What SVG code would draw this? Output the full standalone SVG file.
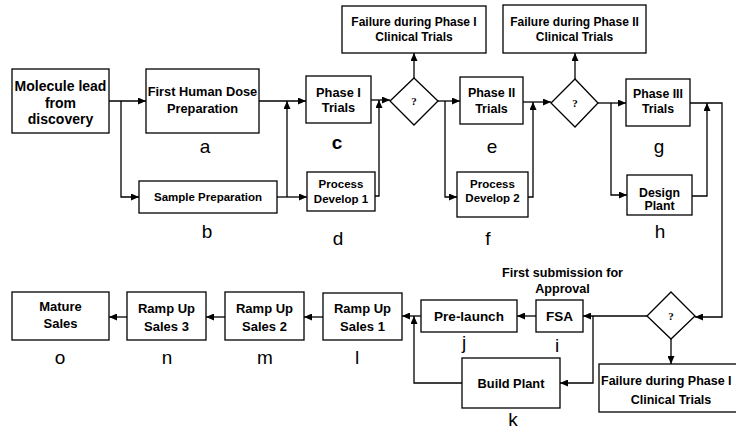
<svg xmlns="http://www.w3.org/2000/svg" width="736" height="434" viewBox="0 0 736 434">
<defs>
<marker id="ah" markerUnits="userSpaceOnUse" markerWidth="8" markerHeight="7" refX="8" refY="3.5" orient="auto">
<path d="M0,0 L8,3.5 L0,7 z" fill="#000"/>
</marker>
<style>
.b{fill:#fff;stroke:#000;stroke-width:1.3}
.t{font-family:"Liberation Sans",Arial,sans-serif;font-weight:bold;font-size:12px;fill:#000;text-anchor:middle;dominant-baseline:central}
.l{font-family:"Liberation Sans",Arial,sans-serif;font-size:19px;fill:#000;text-anchor:middle}
.q{font-family:"Liberation Serif","Times New Roman",serif;font-weight:bold;font-size:11px;fill:#000;text-anchor:middle;dominant-baseline:central}
.c{fill:none;stroke:#000;stroke-width:1.3}
.a{marker-end:url(#ah)}
</style>
</defs>
<rect width="736" height="434" fill="#fff"/>
<g id="connectors">
<path class="c a" d="M109,101 H146"/>
<path class="c a" d="M121,101 V197 H139"/>
<path class="c a" d="M259,101 H306"/>
<path class="c a" d="M277,197 H307"/>
<path class="c a" d="M287,197 V101"/>
<path class="c a" d="M371,100 H390"/>
<path class="c a" d="M375,196 H379 V100"/>
<path class="c a" d="M414,78 V53"/>
<path class="c a" d="M438,101 H460"/>
<path class="c a" d="M445,101 V197 H457"/>
<path class="c a" d="M523,102 H551"/>
<path class="c a" d="M528,197 H533 V102"/>
<path class="c a" d="M575,79 V53"/>
<path class="c a" d="M598,103 H626"/>
<path class="c a" d="M611,103 V195 H627"/>
<path class="c a" d="M692,196 H707 V103"/>
<path class="c a" d="M690,103 H722 V317 H695"/>
<path class="c a" d="M671,339 V364"/>
<path class="c a" d="M647,316 H583"/>
<path class="c a" d="M593,316 V383 H560"/>
<path class="c a" d="M536,316 H517"/>
<path class="c a" d="M421,316 H402"/>
<path class="c a" d="M462,383 H414 V316"/>
<path class="c a" d="M323,317 H304"/>
<path class="c a" d="M225,317 H206"/>
<path class="c a" d="M127,317 H109"/>
</g>
<g id="molecule">
<rect class="b" x="12" y="69" width="97" height="64"/>
<text class="t" style="font-size:14px" x="60.5" y="86">Molecule lead</text>
<text class="t" style="font-size:14px" x="60.5" y="102.5">from</text>
<text class="t" style="font-size:14px" x="60.5" y="119">discovery</text>
</g>
<g id="node-a">
<rect class="b" x="146" y="69" width="113" height="64"/>
<text class="t" style="font-size:12.8px" x="202.5" y="91">First Human Dose</text>
<text class="t" style="font-size:12.8px" x="202.5" y="108">Preparation</text>
<text class="l" x="205" y="153">a</text>
</g>
<g id="node-b">
<rect class="b" x="139" y="181" width="138" height="32"/>
<text class="t" style="font-size:11.5px" x="208" y="197">Sample Preparation</text>
<text class="l" x="207" y="238">b</text>
</g>
<g id="node-c">
<rect class="b" x="306" y="76" width="65" height="47"/>
<text class="t" style="font-size:12.8px" x="338.5" y="92">Phase I</text>
<text class="t" style="font-size:12.8px" x="338.5" y="107.5">Trials</text>
<text class="l" style="font-weight:bold" x="337" y="149">c</text>
</g>
<g id="node-d">
<rect class="b" x="307" y="172" width="68" height="39"/>
<text class="t" style="font-size:11.5px" x="341" y="183.5">Process</text>
<text class="t" style="font-size:11.5px" x="341" y="198.5">Develop 1</text>
<text class="l" x="338" y="245">d</text>
</g>
<g id="decision-1">
<path class="b" d="M414,78 L438,101 L414,125 L390,101 z"/>
<text class="q" x="414" y="101">?</text>
</g>
<g id="failure-1">
<rect class="b" x="342" y="6" width="144" height="47"/>
<text class="t" x="414" y="22">Failure during Phase I</text>
<text class="t" x="414" y="37">Clinical Trials</text>
</g>
<g id="node-e">
<rect class="b" x="460" y="77" width="63" height="47"/>
<text class="t" style="font-size:12.5px" x="491.5" y="93">Phase II</text>
<text class="t" style="font-size:12.5px" x="491.5" y="109">Trials</text>
<text class="l" x="492" y="153">e</text>
</g>
<g id="node-f">
<rect class="b" x="457" y="172" width="71" height="45"/>
<text class="t" style="font-size:11.5px" x="492.5" y="183.5">Process</text>
<text class="t" style="font-size:11.5px" x="492.5" y="198">Develop 2</text>
<text class="l" x="488" y="245">f</text>
</g>
<g id="decision-2">
<path class="b" d="M575,79 L598,103 L575,127 L551,103 z"/>
<text class="q" x="575" y="103">?</text>
</g>
<g id="failure-2">
<rect class="b" x="503" y="5" width="143" height="48"/>
<text class="t" x="574.5" y="22">Failure during Phase II</text>
<text class="t" x="574.5" y="37">Clinical Trials</text>
</g>
<g id="node-g">
<rect class="b" x="626" y="79" width="64" height="47"/>
<text class="t" style="font-size:12.3px" x="658" y="94">Phase III</text>
<text class="t" style="font-size:12.3px" x="658" y="109">Trials</text>
<text class="l" x="659" y="153">g</text>
</g>
<g id="node-h">
<rect class="b" x="627" y="175" width="65" height="40"/>
<text class="t" style="font-size:12.3px" x="659.5" y="192.5">Design</text>
<text class="t" style="font-size:12.3px" x="659.5" y="206">Plant</text>
<text class="l" x="660" y="238">h</text>
</g>
<g id="decision-3">
<path class="b" d="M671,292 L695,316 L671,339 L647,316 z"/>
<text class="q" x="671" y="316">?</text>
</g>
<g id="failure-3">
<rect class="b" x="599" y="364" width="146" height="48"/>
<text class="t" style="font-size:12.5px;text-anchor:start" x="601" y="381">Failure during Phase I</text>
<text class="t" style="font-size:12.5px" x="671" y="400">Clinical Trials</text>
</g>
<g id="node-i">
<rect class="b" x="536" y="300" width="47" height="32"/>
<text class="t" style="font-size:13.5px" x="559.5" y="316.5">FSA</text>
<text class="t" style="font-size:12.6px" x="562.5" y="273">First submission for</text>
<text class="t" style="font-size:12.6px" x="562.5" y="289">Approval</text>
<text class="l" x="557" y="352">i</text>
</g>
<g id="node-j">
<rect class="b" x="421" y="300" width="96" height="32"/>
<text class="t" style="font-size:13.5px" x="469" y="316.5">Pre-launch</text>
<text class="l" x="464" y="349">j</text>
</g>
<g id="node-k">
<rect class="b" x="462" y="358" width="98" height="50"/>
<text class="t" style="font-size:12.8px" x="511" y="383">Build Plant</text>
<text class="l" x="513" y="426">k</text>
</g>
<g id="node-l">
<rect class="b" x="323" y="293" width="79" height="47"/>
<text class="t" style="font-size:13px" x="362.5" y="308">Ramp Up</text>
<text class="t" style="font-size:13px" x="362.5" y="326">Sales 1</text>
<text class="l" x="357" y="364">l</text>
</g>
<g id="node-m">
<rect class="b" x="225" y="292" width="79" height="48"/>
<text class="t" style="font-size:13px" x="264.5" y="308">Ramp Up</text>
<text class="t" style="font-size:13px" x="264.5" y="326">Sales 2</text>
<text class="l" x="265" y="364">m</text>
</g>
<g id="node-n">
<rect class="b" x="127" y="292" width="79" height="48"/>
<text class="t" style="font-size:13px" x="166.5" y="308">Ramp Up</text>
<text class="t" style="font-size:13px" x="166.5" y="326">Sales 3</text>
<text class="l" x="167" y="364">n</text>
</g>
<g id="node-o">
<rect class="b" x="12" y="292" width="97" height="48"/>
<text class="t" style="font-size:13px" x="60.5" y="306">Mature</text>
<text class="t" style="font-size:13px" x="60.5" y="323">Sales</text>
<text class="l" x="60" y="364">o</text>
</g>
</svg>
